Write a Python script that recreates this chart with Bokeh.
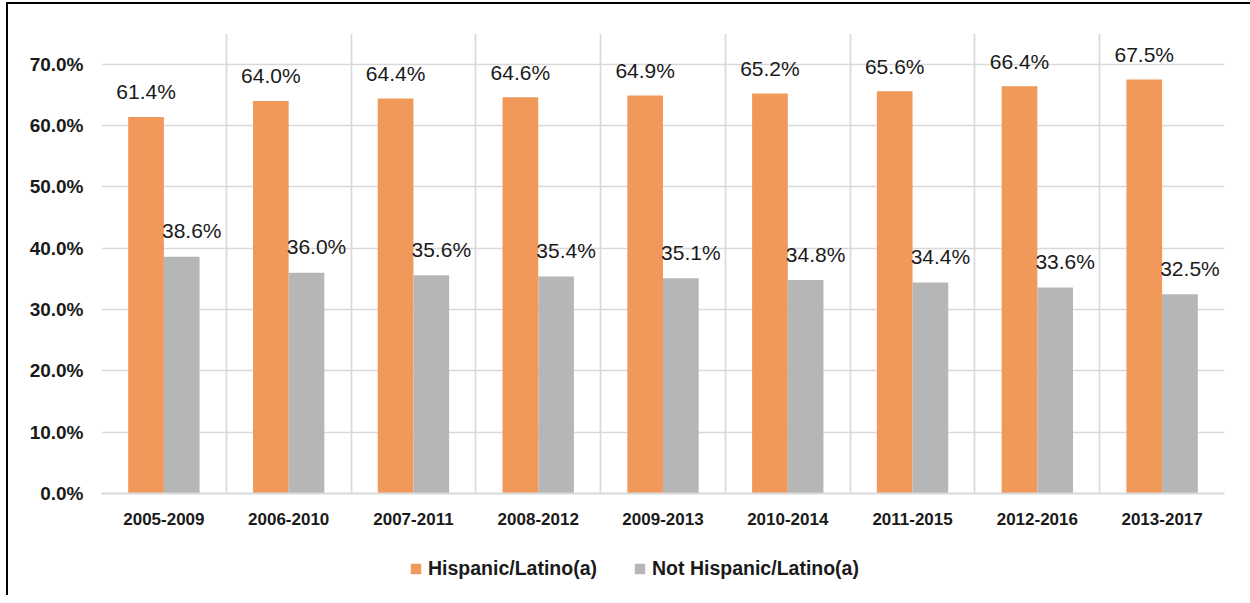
import numpy as np
from bokeh.plotting import figure
from bokeh.layouts import column
from bokeh.models import (ColumnDataSource, FixedTicker, PrintfTickFormatter, Legend,
                          LegendItem, Range1d)
from bokeh.core.properties import value
from bokeh.embed import file_html
from bokeh.resources import INLINE

categories = ["2005-2009", "2006-2010", "2007-2011", "2008-2012", "2009-2013",
              "2010-2014", "2011-2015", "2012-2016", "2013-2017"]
hispanic = [61.4, 64.0, 64.4, 64.6, 64.9, 65.2, 65.6, 66.4, 67.5]
not_hispanic = [38.6, 36.0, 35.6, 35.4, 35.1, 34.8, 34.4, 33.6, 32.5]
y_ticks = [0, 10, 20, 30, 40, 50, 60, 70]
series_names = ["Hispanic/Latino(a)", "Not Hispanic/Latino(a)"]

ORANGE = "#F0995B"
GRAY = "#B6B6B6"
GRID = "#D9D9D9"
FONT = "Liberation Sans"
TXT = "#1a1a1a"

n = len(categories)
centers = np.arange(n) + 0.5
off = 0.143
bw = 0.286

src = ColumnDataSource(dict(
    xh=centers - off,
    xn=centers + off,
    h=hispanic,
    nh=not_hispanic,
    hl=[f"{v:.1f}%" for v in hispanic],
    nl=[f"{v:.1f}%" for v in not_hispanic],
))

W = 1242
p = figure(width=W, height=536, output_backend="svg", toolbar_location=None,
           x_range=Range1d(0, n), y_range=Range1d(0, 75),
           min_border_left=93, min_border_right=26, min_border_top=29, min_border_bottom=47)
p.outline_line_color = None
p.background_fill_color = "white"
p.border_fill_color = "white"

rh = p.vbar(x="xh", top="h", width=bw, source=src, fill_color=ORANGE, line_color=None)
rn = p.vbar(x="xn", top="nh", width=bw, source=src, fill_color=GRAY, line_color=None)

p.text(x="xh", y="h", text="hl", source=src, text_align="center", text_baseline="alphabetic",
       y_offset=-25, text_font=value(FONT), text_font_size="21px", text_color=TXT)
p.text(x="xn", y="nh", text="nl", source=src, text_align="center", text_baseline="alphabetic",
       x_offset=10, y_offset=-26, text_font=value(FONT), text_font_size="21px", text_color=TXT)

# axes
p.yaxis.ticker = FixedTicker(ticks=y_ticks)
p.yaxis.formatter = PrintfTickFormatter(format="%.1f%%")
p.yaxis.axis_line_color = None
p.yaxis.major_tick_line_color = None
p.yaxis.minor_tick_line_color = None
p.yaxis.major_label_standoff = 12
p.yaxis.major_label_text_font = FONT
p.yaxis.major_label_text_font_style = "bold"
p.yaxis.major_label_text_font_size = "19px"
p.yaxis.major_label_text_color = TXT

p.xaxis.ticker = FixedTicker(ticks=list(centers))
p.xaxis.major_label_overrides = {float(c): lab for c, lab in zip(centers, categories)}
p.xaxis.axis_line_color = GRID
p.xaxis.axis_line_width = 2
p.xaxis.major_tick_line_color = None
p.xaxis.minor_tick_line_color = None
p.xaxis.major_label_standoff = 13
p.xaxis.major_label_text_font = FONT
p.xaxis.major_label_text_font_style = "bold"
p.xaxis.major_label_text_font_size = "17px"
p.xaxis.major_label_text_color = TXT

p.ygrid.ticker = FixedTicker(ticks=y_ticks)
p.ygrid.grid_line_color = GRID
p.ygrid.grid_line_width = 1.7
p.xgrid.ticker = FixedTicker(ticks=list(range(n + 1)))
p.xgrid.grid_line_color = GRID
p.xgrid.grid_line_width = 1.7

# legend strip below the chart (swatch renderers sit outside the visible range)
p2 = figure(width=W, height=55, output_backend="svg", toolbar_location=None,
            x_range=Range1d(0, 1), y_range=Range1d(0, 1),
            x_axis_location=None, y_axis_location=None, min_border=0)
p2.outline_line_color = None
p2.xgrid.visible = False
p2.ygrid.visible = False
lh = p2.vbar(x=[-10], top=[-10], width=0.1, fill_color=ORANGE, line_color=None)
ln = p2.vbar(x=[-10], top=[-10], width=0.1, fill_color=GRAY, line_color=None)
legend = Legend(items=[LegendItem(label=series_names[0], renderers=[lh]),
                       LegendItem(label=series_names[1], renderers=[ln])],
                orientation="horizontal", location=(308, 15))
legend.border_line_color = None
legend.background_fill_alpha = 0
legend.padding = 0
legend.margin = 0
legend.spacing = 36
legend.glyph_width = 13
legend.glyph_height = 13
legend.label_standoff = 6
legend.label_text_font = FONT
legend.label_text_font_style = "bold"
legend.label_text_font_size = "19.5px"
legend.label_text_color = TXT
p2.add_layout(legend, "center")

layout = column(p, p2, spacing=0, margin=(2, 0, 0, 6),
                styles={"border-left": "2px solid black", "border-top": "2px solid black"})

open("out.html", "w").write(file_html(layout, INLINE))
